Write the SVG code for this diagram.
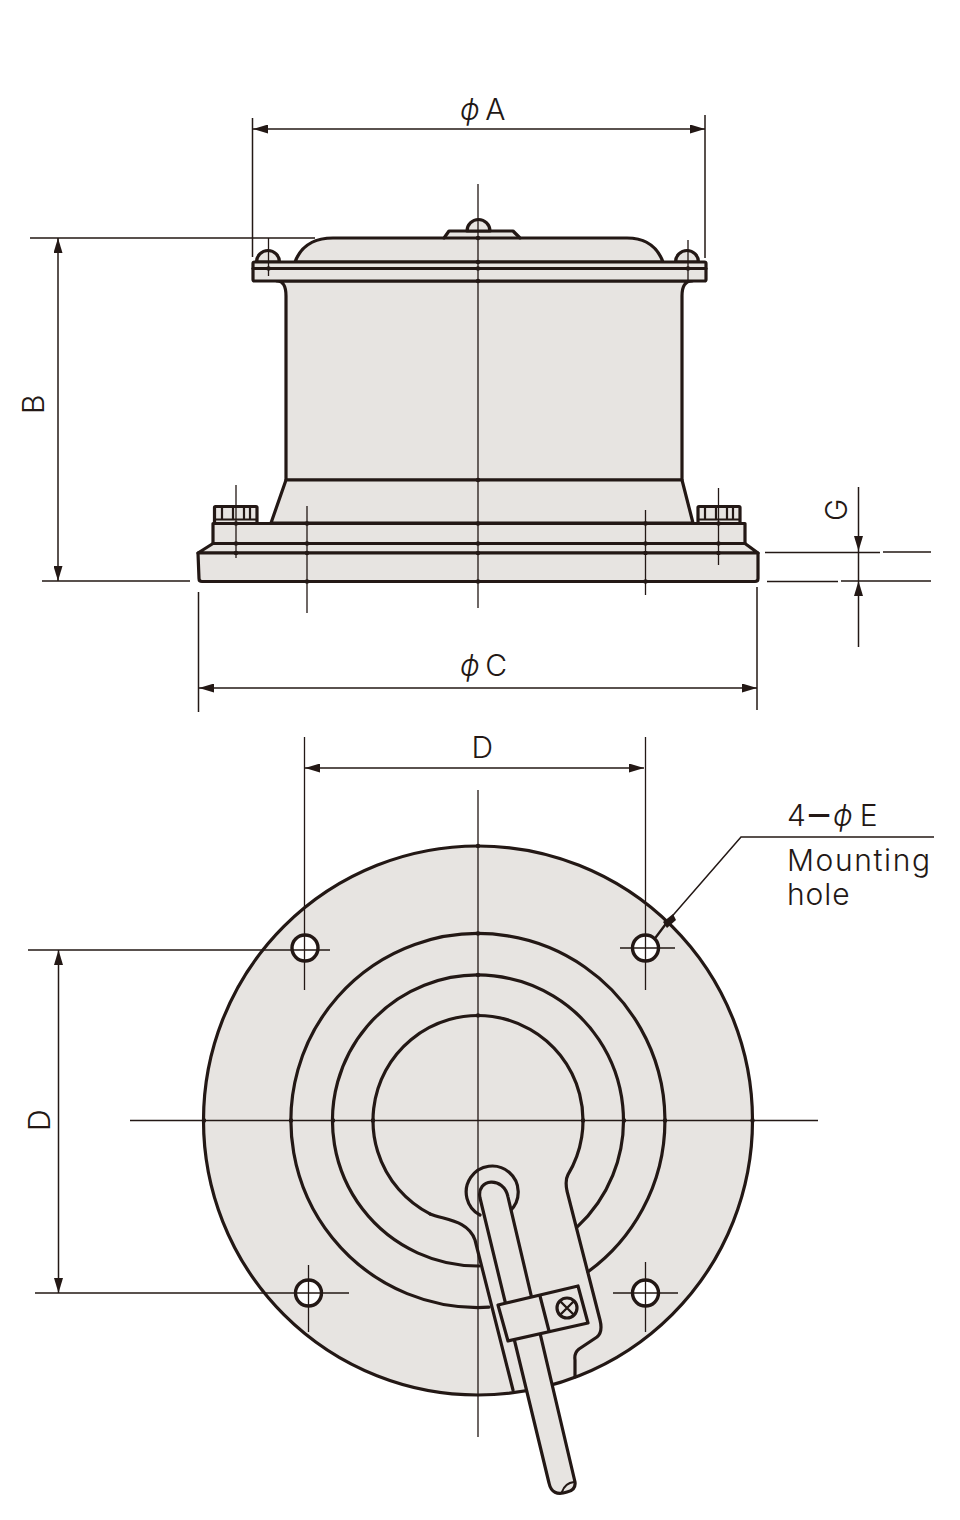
<svg xmlns="http://www.w3.org/2000/svg" width="960" height="1520" viewBox="0 0 960 1520">
<style>
.o{fill:none;stroke:#231815;stroke-width:3.200;stroke-linecap:round;stroke-linejoin:round}
.f{fill:#e7e4e1;stroke:#231815;stroke-width:3.200;stroke-linejoin:round;stroke-linecap:round}
.h{fill:#fff;stroke:#231815;stroke-width:3.400}
.t{fill:none;stroke:#231815;stroke-width:1.300}
.d{fill:none;stroke:#231815;stroke-width:1.500}
.a{fill:none;stroke:#231815;stroke-width:1.500;marker-start:url(#ah);marker-end:url(#ah)}
.l{font-family:"Inter","Noto Sans",sans-serif;font-weight:300;font-size:30px;fill:#231815}
.i{font-style:italic}
.n{fill:none;stroke:#231815;stroke-width:4.500;stroke-linecap:round}
</style>
<defs>
<marker id="ah" viewBox="0 0 15 9" refX="15" refY="4.500" markerWidth="15" markerHeight="9" markerUnits="userSpaceOnUse" orient="auto-start-reverse"><path d="M0 0L15 4.500L0 9z" fill="#231815"/></marker>
</defs>
<rect width="960" height="1520" fill="#fff"/>

<g id="side-view">
<path id="cover" class="f" d="M295 262C301 246 314 238 333 238H444L449 231H513L520 238H627C646 238 657 246 663 262Z"/>
<path class="o" d="M444 238H520"/>
<path id="center-nut" class="f" d="M467 231A11.500 11.500 0 0 1 490 231Z"/>
<path id="nut-left" class="f" d="M256.500 262A11.500 11.500 0 0 1 279.500 262Z"/>
<path id="nut-right" class="f" d="M675.500 262A11.500 11.500 0 0 1 698.500 262Z"/>
<path id="body" class="f" d="M277 281C283 281 286 286 286 296V480H682V296C682 286 685 281 692 281Z"/>
<path id="taper" class="f" d="M286 480H682L693 523H271Z"/>
<rect id="flange" class="f" x="253" y="262" width="453" height="19" rx="1.500"/>
<path class="o" d="M253 268.500H706"/>
<g id="bolt-left"><rect class="f" x="214.500" y="506.500" width="42.500" height="17" rx="1"/><path class="o" style="stroke-width:2.200" d="M222 507V519M233 507V519M244 507V519M250 507V519M215 519.500H257"/></g>
<g id="bolt-right"><rect class="f" x="698" y="506.500" width="42" height="17" rx="1"/><path class="o" style="stroke-width:2.200" d="M705 507V519M716 507V519M727 507V519M733 507V519M698 519.500H740"/></g>
<rect id="base-upper" class="f" x="213" y="523.500" width="532" height="20"/>
<path id="base-chamfer" class="f" d="M213 543.500H745L758 553H198Z"/>
<path id="base-lower" class="f" d="M198 553H758V578.500Q758 581.500 755 581.500H202Q199 581.500 199 578.500Z"/>
<path id="side-centerlines" class="t" d="M478 184V608M268.500 238V276M688 240V280M236 485V558M718.500 488V565M307 506V613M645.500 510V595"/>
<path id="side-crossings" class="n" d="M478 238h0M478 262h0M478 268.500h0M478 281h0M478 480h0M478 523.500h0M478 543.500h0M478 553h0M478 581.500h0M307 523.500h0M307 543.500h0M307 553h0M307 581.500h0M645.500 523.500h0M645.500 543.500h0M645.500 553h0M645.500 581.500h0M236 523.500h0M236 543.500h0M236 553h0M718.500 523.500h0M718.500 543.500h0M718.500 553h0M268.500 268.500h0M688 268.500h0"/>
</g>

<g id="plan-view">
<circle id="disc" class="f" cx="478" cy="1120.500" r="274.500"/>
<path id="ring-outer" class="o" d="M489 1307.200A187 187 0 1 1 588 1271.700"/>
<path id="ring-middle" class="o" d="M479 1266A145.500 145.500 0 1 1 577 1227.100"/>
<path id="ring-inner" class="o" d="M430 1213.900A105 105 0 1 1 568 1174.600C565 1180 566 1186 567 1191L600 1320Q603 1332 597 1337L579 1349Q574 1353 575 1360L575 1377"/>
<path id="ring-inner-left" class="o" d="M430 1213.900C445 1220 468 1220 475 1240L513 1390"/>
<g id="hole-1"><circle class="h" cx="305" cy="948" r="13"/></g>
<g id="hole-2"><circle class="h" cx="645.500" cy="948" r="13"/></g>
<g id="hole-3"><circle class="h" cx="308.500" cy="1293" r="13"/></g>
<g id="hole-4"><circle class="h" cx="645.500" cy="1293" r="13"/></g>
<path id="pivot" class="o" d="M480 1215A26 26 0 1 1 510 1211"/>
<path id="lever" class="f" d="M480 1198C476 1178 504 1176 508 1197L575 1482Q576 1490 567 1492Q552 1497 549 1483Z"/>
<path class="o" style="stroke-width:2.200" d="M574 1482Q565 1483 562 1492"/>
<g id="clamp"><path class="f" d="M498 1305L578 1286L588 1323L508 1341Z"/><path class="o" d="M540 1296L549 1331"/></g>
<g id="screw"><circle class="o" cx="567" cy="1308" r="10"/><path class="o" style="stroke-width:2.400" d="M561 1302L573 1314M573 1302L561 1314"/></g>
<path id="plan-centerlines" class="t" d="M478 790V1437M130 1120.500H818M304.500 737V990M645.500 737V990M308.500 1265V1332M645.500 1262V1332M613 1293H678M620 948H675"/>
<path id="plan-crossings" class="n" d="M478 846h0M478 933.500h0M478 975h0M478 1015.500h0M291 1120.500h0M333 1120.500h0M373 1120.500h0M583 1120.500h0M624 1120.500h0M665 1120.500h0M204 1120.500h0M752.500 1120.500h0"/>
</g>

<g id="connectors">
<path class="d" d="M252.500 118V257M705 115V258M30 238H315M42 581H190M198.500 592V712M757 587V710M765 552.500H880M883 552H931M767 581.500H838M841 581H931M28 950H330M35 1293H349"/>
<path class="a" d="M253 129H705"/>
<path class="a" d="M58 238V581"/>
<path class="a" d="M199 688H757"/>
<path class="a" d="M305 768H644"/>
<path class="a" d="M58.500 950V1293"/>
<path class="d" style="marker-end:url(#ah)" d="M858.500 487V551"/>
<path class="d" style="marker-end:url(#ah)" d="M858.500 647V581"/>
<path class="d" d="M858.500 551V581"/>
<path id="leader" class="d" d="M934 837H741L668 921"/>
<path id="leader-tail" class="o" style="stroke-width:2.400" d="M668 921L656 937"/>
<path id="leader-blob" d="M673 914L676 920L667 928L663 922Z" fill="#231815"/>
</g>

<g id="labels">
<text class="l" x="460" y="120" style="letter-spacing:.6px"><tspan class="i">ϕ</tspan><tspan dx="5">A</tspan></text>
<text class="l" x="460" y="676" style="letter-spacing:.6px"><tspan class="i">ϕ</tspan><tspan dx="5">C</tspan></text>
<text class="l" x="471.500" y="758">D</text>
<text class="l" transform="translate(44 414) rotate(-90)">B</text>
<text class="l" transform="translate(50 1131) rotate(-90)">D</text>
<text class="l" transform="translate(847 521) rotate(-90)">G</text>
<text class="l" x="787" y="826">4<tspan font-size="46" dy="3" dx="-2">−</tspan><tspan class="i" dy="-3" dx="-1">ϕ</tspan><tspan dx="7" style="letter-spacing:0">E</tspan></text>
<text class="l" x="787" y="871" style="letter-spacing:1.600px">Mounting</text>
<text class="l" x="787" y="905" style="letter-spacing:.9px">hole</text>
</g>
</svg>
